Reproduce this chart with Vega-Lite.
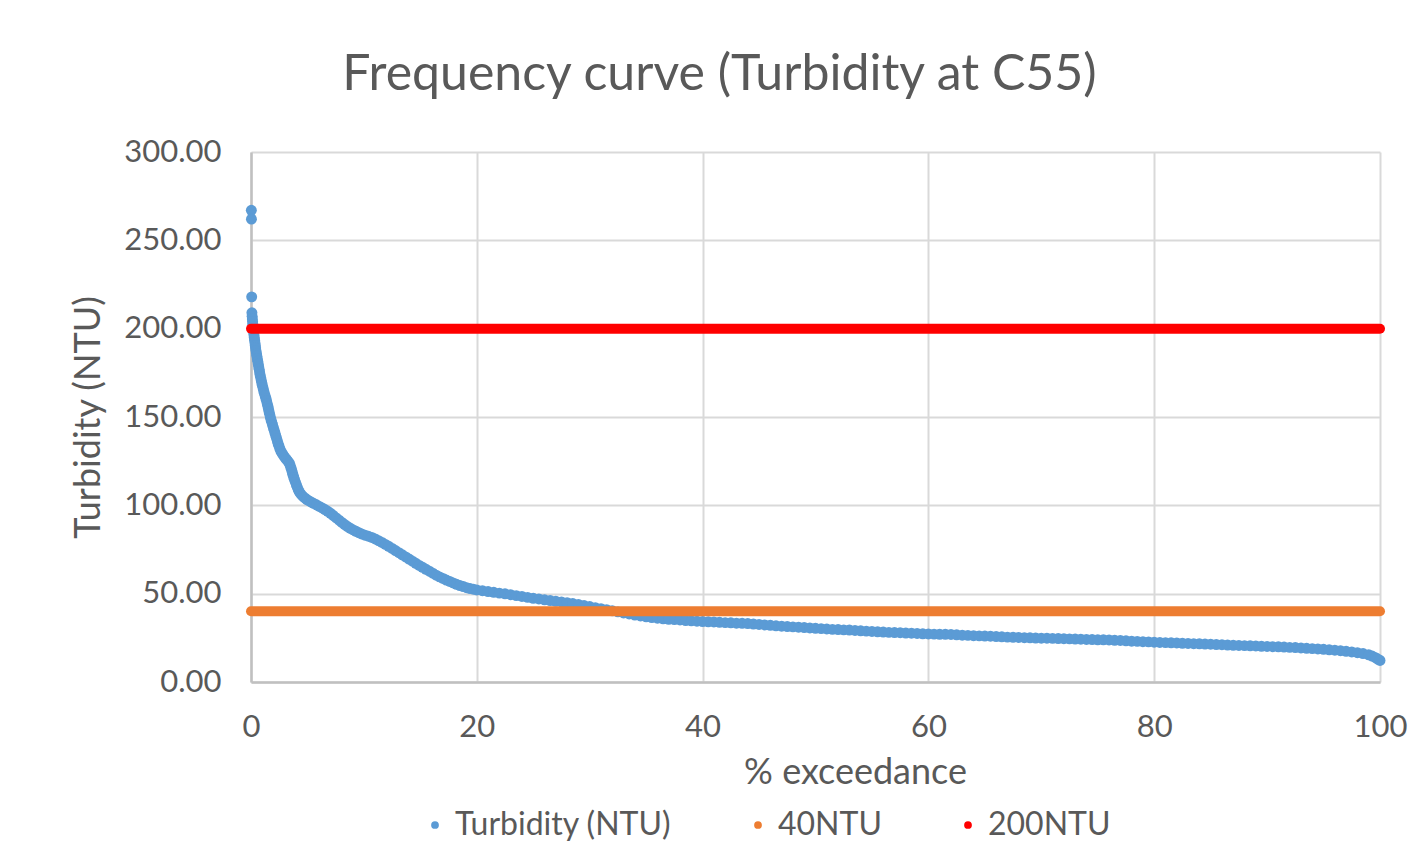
{
  "$schema": "https://vega.github.io/schema/vega-lite/v6.json",
  "autosize": "none",
  "width": 1129,
  "height": 530,
  "padding": {"left": 251, "top": 152, "right": 37, "bottom": 173},
  "background": "#ffffff",
  "title": {
    "text": "Frequency curve (Turbidity at C55)",
    "anchor": "middle",
    "frame": "group",
    "dx": -96,
    "offset": 36,
    "font": "Lato",
    "fontSize": 50,
    "fontWeight": "normal",
    "color": "#595959"
  },
  "config": {
    "view": {"stroke": null},
    "font": "Lato",
    "axis": {
      "labelFont": "Lato",
      "labelColor": "#595959",
      "labelFontSize": 31,
      "labelFlush": false,
      "titleFont": "Lato",
      "titleColor": "#595959",
      "titleFontSize": 36,
      "titleFontWeight": "normal",
      "gridColor": "#D9D9D9",
      "gridWidth": 2,
      "ticks": false,
      "domainColor": "#C0C0C0",
      "domainWidth": 2.5
    }
  },
  "datasets": {
    "turbidity": [
      {"series": "Turbidity (NTU)", "pct": 0.03, "ntu": 267},
      {"series": "Turbidity (NTU)", "pct": 0.04, "ntu": 262},
      {"series": "Turbidity (NTU)", "pct": 0.06, "ntu": 218},
      {"series": "Turbidity (NTU)", "pct": 0.08, "ntu": 209},
      {"series": "Turbidity (NTU)", "pct": 0.10, "ntu": 207},
      {"series": "Turbidity (NTU)", "pct": 0.12, "ntu": 205.5},
      {"series": "Turbidity (NTU)", "pct": 0.14, "ntu": 204},
      {"series": "Turbidity (NTU)", "pct": 0.16, "ntu": 202.5},
      {"series": "Turbidity (NTU)", "pct": 0.18, "ntu": 201},
      {"series": "Turbidity (NTU)", "pct": 0.20, "ntu": 199.5},
      {"series": "Turbidity (NTU)", "pct": 0.23, "ntu": 198},
      {"series": "Turbidity (NTU)", "pct": 0.26, "ntu": 196.5},
      {"series": "Turbidity (NTU)", "pct": 0.29, "ntu": 195},
      {"series": "Turbidity (NTU)", "pct": 0.32, "ntu": 193.5},
      {"series": "Turbidity (NTU)", "pct": 0.35, "ntu": 192},
      {"series": "Turbidity (NTU)", "pct": 0.38, "ntu": 190.5},
      {"series": "Turbidity (NTU)", "pct": 0.41, "ntu": 189},
      {"series": "Turbidity (NTU)", "pct": 0.44, "ntu": 187.5},
      {"series": "Turbidity (NTU)", "pct": 0.48, "ntu": 186},
      {"series": "Turbidity (NTU)", "pct": 0.52, "ntu": 184.5},
      {"series": "Turbidity (NTU)", "pct": 0.56, "ntu": 183},
      {"series": "Turbidity (NTU)", "pct": 0.60, "ntu": 181.5},
      {"series": "Turbidity (NTU)", "pct": 0.64, "ntu": 180},
      {"series": "Turbidity (NTU)", "pct": 0.68, "ntu": 178.5},
      {"series": "Turbidity (NTU)", "pct": 0.72, "ntu": 177},
      {"series": "Turbidity (NTU)", "pct": 0.76, "ntu": 175.5},
      {"series": "Turbidity (NTU)", "pct": 0.80, "ntu": 174},
      {"series": "Turbidity (NTU)", "pct": 0.85, "ntu": 172.5},
      {"series": "Turbidity (NTU)", "pct": 0.90, "ntu": 171},
      {"series": "Turbidity (NTU)", "pct": 0.95, "ntu": 169.5},
      {"series": "Turbidity (NTU)", "pct": 1.00, "ntu": 168},
      {"series": "Turbidity (NTU)", "pct": 1.06, "ntu": 166.5},
      {"series": "Turbidity (NTU)", "pct": 1.12, "ntu": 165},
      {"series": "Turbidity (NTU)", "pct": 1.18, "ntu": 163.5},
      {"series": "Turbidity (NTU)", "pct": 1.25, "ntu": 162},
      {"series": "Turbidity (NTU)", "pct": 1.32, "ntu": 160.5},
      {"series": "Turbidity (NTU)", "pct": 1.38, "ntu": 159},
      {"series": "Turbidity (NTU)", "pct": 1.44, "ntu": 157.5},
      {"series": "Turbidity (NTU)", "pct": 1.50, "ntu": 156},
      {"series": "Turbidity (NTU)", "pct": 1.55, "ntu": 154.5},
      {"series": "Turbidity (NTU)", "pct": 1.60, "ntu": 153},
      {"series": "Turbidity (NTU)", "pct": 1.65, "ntu": 151.5},
      {"series": "Turbidity (NTU)", "pct": 1.71, "ntu": 150},
      {"series": "Turbidity (NTU)", "pct": 1.77, "ntu": 148.5},
      {"series": "Turbidity (NTU)", "pct": 1.84, "ntu": 147},
      {"series": "Turbidity (NTU)", "pct": 1.91, "ntu": 145.5},
      {"series": "Turbidity (NTU)", "pct": 1.98, "ntu": 144},
      {"series": "Turbidity (NTU)", "pct": 2.05, "ntu": 142.5},
      {"series": "Turbidity (NTU)", "pct": 2.12, "ntu": 141},
      {"series": "Turbidity (NTU)", "pct": 2.19, "ntu": 139.5},
      {"series": "Turbidity (NTU)", "pct": 2.26, "ntu": 138},
      {"series": "Turbidity (NTU)", "pct": 2.33, "ntu": 136.5},
      {"series": "Turbidity (NTU)", "pct": 2.40, "ntu": 135},
      {"series": "Turbidity (NTU)", "pct": 2.48, "ntu": 133.5},
      {"series": "Turbidity (NTU)", "pct": 2.56, "ntu": 132},
      {"series": "Turbidity (NTU)", "pct": 2.66, "ntu": 130.5},
      {"series": "Turbidity (NTU)", "pct": 2.78, "ntu": 129.2},
      {"series": "Turbidity (NTU)", "pct": 2.90, "ntu": 128},
      {"series": "Turbidity (NTU)", "pct": 3.02, "ntu": 127},
      {"series": "Turbidity (NTU)", "pct": 3.14, "ntu": 126},
      {"series": "Turbidity (NTU)", "pct": 3.26, "ntu": 125},
      {"series": "Turbidity (NTU)", "pct": 3.38, "ntu": 124},
      {"series": "Turbidity (NTU)", "pct": 3.46, "ntu": 122.8},
      {"series": "Turbidity (NTU)", "pct": 3.53, "ntu": 121.4},
      {"series": "Turbidity (NTU)", "pct": 3.60, "ntu": 120},
      {"series": "Turbidity (NTU)", "pct": 3.66, "ntu": 118.6},
      {"series": "Turbidity (NTU)", "pct": 3.72, "ntu": 117.2},
      {"series": "Turbidity (NTU)", "pct": 3.79, "ntu": 115.8},
      {"series": "Turbidity (NTU)", "pct": 3.86, "ntu": 114.4},
      {"series": "Turbidity (NTU)", "pct": 3.94, "ntu": 113},
      {"series": "Turbidity (NTU)", "pct": 4.02, "ntu": 111.6},
      {"series": "Turbidity (NTU)", "pct": 4.10, "ntu": 110.2},
      {"series": "Turbidity (NTU)", "pct": 4.19, "ntu": 108.8},
      {"series": "Turbidity (NTU)", "pct": 4.29, "ntu": 107.5},
      {"series": "Turbidity (NTU)", "pct": 4.42, "ntu": 106.3},
      {"series": "Turbidity (NTU)", "pct": 4.58, "ntu": 105.2},
      {"series": "Turbidity (NTU)", "pct": 4.76, "ntu": 104.2},
      {"series": "Turbidity (NTU)", "pct": 4.95, "ntu": 103.3},
      {"series": "Turbidity (NTU)", "pct": 5.15, "ntu": 102.5},
      {"series": "Turbidity (NTU)", "pct": 5.35, "ntu": 101.8},
      {"series": "Turbidity (NTU)", "pct": 5.55, "ntu": 101.1},
      {"series": "Turbidity (NTU)", "pct": 5.80, "ntu": 100.3},
      {"series": "Turbidity (NTU)", "pct": 6.05, "ntu": 99.4},
      {"series": "Turbidity (NTU)", "pct": 6.30, "ntu": 98.5},
      {"series": "Turbidity (NTU)", "pct": 6.55, "ntu": 97.6},
      {"series": "Turbidity (NTU)", "pct": 6.80, "ntu": 96.6},
      {"series": "Turbidity (NTU)", "pct": 7.05, "ntu": 95.5},
      {"series": "Turbidity (NTU)", "pct": 7.30, "ntu": 94.2},
      {"series": "Turbidity (NTU)", "pct": 7.55, "ntu": 92.9},
      {"series": "Turbidity (NTU)", "pct": 7.80, "ntu": 91.6},
      {"series": "Turbidity (NTU)", "pct": 8.05, "ntu": 90.3},
      {"series": "Turbidity (NTU)", "pct": 8.30, "ntu": 89.1},
      {"series": "Turbidity (NTU)", "pct": 8.55, "ntu": 88.0},
      {"series": "Turbidity (NTU)", "pct": 8.80, "ntu": 87.0},
      {"series": "Turbidity (NTU)", "pct": 9.05, "ntu": 86.1},
      {"series": "Turbidity (NTU)", "pct": 9.30, "ntu": 85.3},
      {"series": "Turbidity (NTU)", "pct": 9.55, "ntu": 84.5},
      {"series": "Turbidity (NTU)", "pct": 9.80, "ntu": 83.8},
      {"series": "Turbidity (NTU)", "pct": 10.10, "ntu": 83.1},
      {"series": "Turbidity (NTU)", "pct": 10.40, "ntu": 82.5},
      {"series": "Turbidity (NTU)", "pct": 10.70, "ntu": 81.8},
      {"series": "Turbidity (NTU)", "pct": 11.00, "ntu": 81.0},
      {"series": "Turbidity (NTU)", "pct": 11.30, "ntu": 80.0},
      {"series": "Turbidity (NTU)", "pct": 11.60, "ntu": 79.0},
      {"series": "Turbidity (NTU)", "pct": 11.90, "ntu": 77.9},
      {"series": "Turbidity (NTU)", "pct": 12.20, "ntu": 76.8},
      {"series": "Turbidity (NTU)", "pct": 12.50, "ntu": 75.6},
      {"series": "Turbidity (NTU)", "pct": 12.80, "ntu": 74.4},
      {"series": "Turbidity (NTU)", "pct": 13.10, "ntu": 73.2},
      {"series": "Turbidity (NTU)", "pct": 13.40, "ntu": 72.0},
      {"series": "Turbidity (NTU)", "pct": 13.70, "ntu": 70.8},
      {"series": "Turbidity (NTU)", "pct": 14.00, "ntu": 69.6},
      {"series": "Turbidity (NTU)", "pct": 14.30, "ntu": 68.4},
      {"series": "Turbidity (NTU)", "pct": 14.60, "ntu": 67.2},
      {"series": "Turbidity (NTU)", "pct": 14.90, "ntu": 66.0},
      {"series": "Turbidity (NTU)", "pct": 15.20, "ntu": 64.9},
      {"series": "Turbidity (NTU)", "pct": 15.50, "ntu": 63.8},
      {"series": "Turbidity (NTU)", "pct": 15.80, "ntu": 62.7},
      {"series": "Turbidity (NTU)", "pct": 16.10, "ntu": 61.6},
      {"series": "Turbidity (NTU)", "pct": 16.40, "ntu": 60.5},
      {"series": "Turbidity (NTU)", "pct": 16.70, "ntu": 59.5},
      {"series": "Turbidity (NTU)", "pct": 17.00, "ntu": 58.6},
      {"series": "Turbidity (NTU)", "pct": 17.30, "ntu": 57.7},
      {"series": "Turbidity (NTU)", "pct": 17.60, "ntu": 56.9},
      {"series": "Turbidity (NTU)", "pct": 17.90, "ntu": 56.1},
      {"series": "Turbidity (NTU)", "pct": 18.20, "ntu": 55.3},
      {"series": "Turbidity (NTU)", "pct": 18.50, "ntu": 54.6},
      {"series": "Turbidity (NTU)", "pct": 18.80, "ntu": 54.0},
      {"series": "Turbidity (NTU)", "pct": 19.10, "ntu": 53.4},
      {"series": "Turbidity (NTU)", "pct": 19.40, "ntu": 52.9},
      {"series": "Turbidity (NTU)", "pct": 19.70, "ntu": 52.5},
      {"series": "Turbidity (NTU)", "pct": 20.0, "ntu": 52.1},
      {"series": "Turbidity (NTU)", "pct": 20.5, "ntu": 51.7},
      {"series": "Turbidity (NTU)", "pct": 21.0, "ntu": 51.2},
      {"series": "Turbidity (NTU)", "pct": 21.5, "ntu": 50.8},
      {"series": "Turbidity (NTU)", "pct": 22.0, "ntu": 50.3},
      {"series": "Turbidity (NTU)", "pct": 22.5, "ntu": 49.9},
      {"series": "Turbidity (NTU)", "pct": 23.0, "ntu": 49.4},
      {"series": "Turbidity (NTU)", "pct": 23.5, "ntu": 48.9},
      {"series": "Turbidity (NTU)", "pct": 24.0, "ntu": 48.4},
      {"series": "Turbidity (NTU)", "pct": 24.5, "ntu": 47.9},
      {"series": "Turbidity (NTU)", "pct": 25.0, "ntu": 47.4},
      {"series": "Turbidity (NTU)", "pct": 25.5, "ntu": 47.0},
      {"series": "Turbidity (NTU)", "pct": 26.0, "ntu": 46.5},
      {"series": "Turbidity (NTU)", "pct": 26.5, "ntu": 46.1},
      {"series": "Turbidity (NTU)", "pct": 27.0, "ntu": 45.7},
      {"series": "Turbidity (NTU)", "pct": 27.5, "ntu": 45.3},
      {"series": "Turbidity (NTU)", "pct": 28.0, "ntu": 44.9},
      {"series": "Turbidity (NTU)", "pct": 28.5, "ntu": 44.4},
      {"series": "Turbidity (NTU)", "pct": 29.0, "ntu": 43.9},
      {"series": "Turbidity (NTU)", "pct": 29.5, "ntu": 43.3},
      {"series": "Turbidity (NTU)", "pct": 30.0, "ntu": 42.7},
      {"series": "Turbidity (NTU)", "pct": 30.5, "ntu": 42.1},
      {"series": "Turbidity (NTU)", "pct": 31.0, "ntu": 41.5},
      {"series": "Turbidity (NTU)", "pct": 31.5, "ntu": 40.9},
      {"series": "Turbidity (NTU)", "pct": 32.0, "ntu": 40.3},
      {"series": "Turbidity (NTU)", "pct": 32.5, "ntu": 39.7},
      {"series": "Turbidity (NTU)", "pct": 33.0, "ntu": 39.1},
      {"series": "Turbidity (NTU)", "pct": 33.5, "ntu": 38.5},
      {"series": "Turbidity (NTU)", "pct": 34.0, "ntu": 37.9},
      {"series": "Turbidity (NTU)", "pct": 34.5, "ntu": 37.4},
      {"series": "Turbidity (NTU)", "pct": 35.0, "ntu": 36.9},
      {"series": "Turbidity (NTU)", "pct": 35.5, "ntu": 36.5},
      {"series": "Turbidity (NTU)", "pct": 36.0, "ntu": 36.1},
      {"series": "Turbidity (NTU)", "pct": 36.5, "ntu": 35.8},
      {"series": "Turbidity (NTU)", "pct": 37.0, "ntu": 35.5},
      {"series": "Turbidity (NTU)", "pct": 37.5, "ntu": 35.3},
      {"series": "Turbidity (NTU)", "pct": 38.0, "ntu": 35.1},
      {"series": "Turbidity (NTU)", "pct": 38.5, "ntu": 34.8},
      {"series": "Turbidity (NTU)", "pct": 39.0, "ntu": 34.6},
      {"series": "Turbidity (NTU)", "pct": 39.5, "ntu": 34.4},
      {"series": "Turbidity (NTU)", "pct": 40.0, "ntu": 34.2},
      {"series": "Turbidity (NTU)", "pct": 40.5, "ntu": 34.1},
      {"series": "Turbidity (NTU)", "pct": 41.0, "ntu": 34.0},
      {"series": "Turbidity (NTU)", "pct": 41.5, "ntu": 33.8},
      {"series": "Turbidity (NTU)", "pct": 42.0, "ntu": 33.6},
      {"series": "Turbidity (NTU)", "pct": 42.5, "ntu": 33.5},
      {"series": "Turbidity (NTU)", "pct": 43.0, "ntu": 33.3},
      {"series": "Turbidity (NTU)", "pct": 43.5, "ntu": 33.2},
      {"series": "Turbidity (NTU)", "pct": 44.0, "ntu": 33.1},
      {"series": "Turbidity (NTU)", "pct": 44.5, "ntu": 32.8},
      {"series": "Turbidity (NTU)", "pct": 45.0, "ntu": 32.6},
      {"series": "Turbidity (NTU)", "pct": 45.5, "ntu": 32.3},
      {"series": "Turbidity (NTU)", "pct": 46.0, "ntu": 32.1},
      {"series": "Turbidity (NTU)", "pct": 46.5, "ntu": 31.8},
      {"series": "Turbidity (NTU)", "pct": 47.0, "ntu": 31.6},
      {"series": "Turbidity (NTU)", "pct": 47.5, "ntu": 31.4},
      {"series": "Turbidity (NTU)", "pct": 48.0, "ntu": 31.2},
      {"series": "Turbidity (NTU)", "pct": 48.5, "ntu": 31.0},
      {"series": "Turbidity (NTU)", "pct": 49.0, "ntu": 30.8},
      {"series": "Turbidity (NTU)", "pct": 49.5, "ntu": 30.6},
      {"series": "Turbidity (NTU)", "pct": 50.0, "ntu": 30.4},
      {"series": "Turbidity (NTU)", "pct": 50.5, "ntu": 30.2},
      {"series": "Turbidity (NTU)", "pct": 51.0, "ntu": 30.0},
      {"series": "Turbidity (NTU)", "pct": 51.5, "ntu": 29.8},
      {"series": "Turbidity (NTU)", "pct": 52.0, "ntu": 29.7},
      {"series": "Turbidity (NTU)", "pct": 52.5, "ntu": 29.5},
      {"series": "Turbidity (NTU)", "pct": 53.0, "ntu": 29.4},
      {"series": "Turbidity (NTU)", "pct": 53.5, "ntu": 29.2},
      {"series": "Turbidity (NTU)", "pct": 54.0, "ntu": 29.0},
      {"series": "Turbidity (NTU)", "pct": 54.5, "ntu": 28.8},
      {"series": "Turbidity (NTU)", "pct": 55.0, "ntu": 28.6},
      {"series": "Turbidity (NTU)", "pct": 55.5, "ntu": 28.4},
      {"series": "Turbidity (NTU)", "pct": 56.0, "ntu": 28.3},
      {"series": "Turbidity (NTU)", "pct": 56.5, "ntu": 28.1},
      {"series": "Turbidity (NTU)", "pct": 57.0, "ntu": 28.0},
      {"series": "Turbidity (NTU)", "pct": 57.5, "ntu": 27.9},
      {"series": "Turbidity (NTU)", "pct": 58.0, "ntu": 27.7},
      {"series": "Turbidity (NTU)", "pct": 58.5, "ntu": 27.6},
      {"series": "Turbidity (NTU)", "pct": 59.0, "ntu": 27.5},
      {"series": "Turbidity (NTU)", "pct": 59.5, "ntu": 27.3},
      {"series": "Turbidity (NTU)", "pct": 60.0, "ntu": 27.2},
      {"series": "Turbidity (NTU)", "pct": 60.5, "ntu": 27.1},
      {"series": "Turbidity (NTU)", "pct": 61.0, "ntu": 27.0},
      {"series": "Turbidity (NTU)", "pct": 61.5, "ntu": 27.0},
      {"series": "Turbidity (NTU)", "pct": 62.0, "ntu": 26.9},
      {"series": "Turbidity (NTU)", "pct": 62.5, "ntu": 26.7},
      {"series": "Turbidity (NTU)", "pct": 63.0, "ntu": 26.5},
      {"series": "Turbidity (NTU)", "pct": 63.5, "ntu": 26.4},
      {"series": "Turbidity (NTU)", "pct": 64.0, "ntu": 26.2},
      {"series": "Turbidity (NTU)", "pct": 64.5, "ntu": 26.1},
      {"series": "Turbidity (NTU)", "pct": 65.0, "ntu": 26.0},
      {"series": "Turbidity (NTU)", "pct": 65.5, "ntu": 25.9},
      {"series": "Turbidity (NTU)", "pct": 66.0, "ntu": 25.7},
      {"series": "Turbidity (NTU)", "pct": 66.5, "ntu": 25.6},
      {"series": "Turbidity (NTU)", "pct": 67.0, "ntu": 25.4},
      {"series": "Turbidity (NTU)", "pct": 67.5, "ntu": 25.3},
      {"series": "Turbidity (NTU)", "pct": 68.0, "ntu": 25.2},
      {"series": "Turbidity (NTU)", "pct": 68.5, "ntu": 25.1},
      {"series": "Turbidity (NTU)", "pct": 69.0, "ntu": 25.0},
      {"series": "Turbidity (NTU)", "pct": 69.5, "ntu": 24.9},
      {"series": "Turbidity (NTU)", "pct": 70.0, "ntu": 24.8},
      {"series": "Turbidity (NTU)", "pct": 70.5, "ntu": 24.8},
      {"series": "Turbidity (NTU)", "pct": 71.0, "ntu": 24.7},
      {"series": "Turbidity (NTU)", "pct": 71.5, "ntu": 24.6},
      {"series": "Turbidity (NTU)", "pct": 72.0, "ntu": 24.5},
      {"series": "Turbidity (NTU)", "pct": 72.5, "ntu": 24.4},
      {"series": "Turbidity (NTU)", "pct": 73.0, "ntu": 24.3},
      {"series": "Turbidity (NTU)", "pct": 73.5, "ntu": 24.2},
      {"series": "Turbidity (NTU)", "pct": 74.0, "ntu": 24.1},
      {"series": "Turbidity (NTU)", "pct": 74.5, "ntu": 24.0},
      {"series": "Turbidity (NTU)", "pct": 75.0, "ntu": 23.9},
      {"series": "Turbidity (NTU)", "pct": 75.5, "ntu": 23.9},
      {"series": "Turbidity (NTU)", "pct": 76.0, "ntu": 23.8},
      {"series": "Turbidity (NTU)", "pct": 76.5, "ntu": 23.6},
      {"series": "Turbidity (NTU)", "pct": 77.0, "ntu": 23.5},
      {"series": "Turbidity (NTU)", "pct": 77.5, "ntu": 23.3},
      {"series": "Turbidity (NTU)", "pct": 78.0, "ntu": 23.1},
      {"series": "Turbidity (NTU)", "pct": 78.5, "ntu": 23.0},
      {"series": "Turbidity (NTU)", "pct": 79.0, "ntu": 22.8},
      {"series": "Turbidity (NTU)", "pct": 79.5, "ntu": 22.7},
      {"series": "Turbidity (NTU)", "pct": 80.0, "ntu": 22.5},
      {"series": "Turbidity (NTU)", "pct": 80.5, "ntu": 22.4},
      {"series": "Turbidity (NTU)", "pct": 81.0, "ntu": 22.3},
      {"series": "Turbidity (NTU)", "pct": 81.5, "ntu": 22.2},
      {"series": "Turbidity (NTU)", "pct": 82.0, "ntu": 22.1},
      {"series": "Turbidity (NTU)", "pct": 82.5, "ntu": 21.9},
      {"series": "Turbidity (NTU)", "pct": 83.0, "ntu": 21.8},
      {"series": "Turbidity (NTU)", "pct": 83.5, "ntu": 21.7},
      {"series": "Turbidity (NTU)", "pct": 84.0, "ntu": 21.6},
      {"series": "Turbidity (NTU)", "pct": 84.5, "ntu": 21.5},
      {"series": "Turbidity (NTU)", "pct": 85.0, "ntu": 21.4},
      {"series": "Turbidity (NTU)", "pct": 85.5, "ntu": 21.2},
      {"series": "Turbidity (NTU)", "pct": 86.0, "ntu": 21.1},
      {"series": "Turbidity (NTU)", "pct": 86.5, "ntu": 20.9},
      {"series": "Turbidity (NTU)", "pct": 87.0, "ntu": 20.8},
      {"series": "Turbidity (NTU)", "pct": 87.5, "ntu": 20.7},
      {"series": "Turbidity (NTU)", "pct": 88.0, "ntu": 20.6},
      {"series": "Turbidity (NTU)", "pct": 88.5, "ntu": 20.5},
      {"series": "Turbidity (NTU)", "pct": 89.0, "ntu": 20.4},
      {"series": "Turbidity (NTU)", "pct": 89.5, "ntu": 20.2},
      {"series": "Turbidity (NTU)", "pct": 90.0, "ntu": 20.1},
      {"series": "Turbidity (NTU)", "pct": 90.5, "ntu": 20.0},
      {"series": "Turbidity (NTU)", "pct": 91.0, "ntu": 19.9},
      {"series": "Turbidity (NTU)", "pct": 91.5, "ntu": 19.8},
      {"series": "Turbidity (NTU)", "pct": 92.0, "ntu": 19.6},
      {"series": "Turbidity (NTU)", "pct": 92.5, "ntu": 19.5},
      {"series": "Turbidity (NTU)", "pct": 93.0, "ntu": 19.3},
      {"series": "Turbidity (NTU)", "pct": 93.5, "ntu": 19.1},
      {"series": "Turbidity (NTU)", "pct": 94.0, "ntu": 18.9},
      {"series": "Turbidity (NTU)", "pct": 94.5, "ntu": 18.7},
      {"series": "Turbidity (NTU)", "pct": 95.0, "ntu": 18.5},
      {"series": "Turbidity (NTU)", "pct": 95.5, "ntu": 18.2},
      {"series": "Turbidity (NTU)", "pct": 96.0, "ntu": 18.0},
      {"series": "Turbidity (NTU)", "pct": 96.5, "ntu": 17.7},
      {"series": "Turbidity (NTU)", "pct": 97.0, "ntu": 17.4},
      {"series": "Turbidity (NTU)", "pct": 97.5, "ntu": 17.0},
      {"series": "Turbidity (NTU)", "pct": 98.0, "ntu": 16.6},
      {"series": "Turbidity (NTU)", "pct": 98.5, "ntu": 16.1},
      {"series": "Turbidity (NTU)", "pct": 99.0, "ntu": 15.4},
      {"series": "Turbidity (NTU)", "pct": 99.3, "ntu": 14.7},
      {"series": "Turbidity (NTU)", "pct": 99.6, "ntu": 13.8},
      {"series": "Turbidity (NTU)", "pct": 99.8, "ntu": 13.0},
      {"series": "Turbidity (NTU)", "pct": 100.0, "ntu": 12.2}
    ],
    "limits": [
      {"series": "40NTU", "pct": 0, "ntu": 40},
      {"series": "40NTU", "pct": 100, "ntu": 40},
      {"series": "200NTU", "pct": 0, "ntu": 200},
      {"series": "200NTU", "pct": 100, "ntu": 200}
    ]
  },
  "encoding": {
    "x": {
      "field": "pct",
      "type": "quantitative",
      "title": "% exceedance",
      "scale": {"domain": [0, 100], "nice": false},
      "axis": {"values": [0, 20, 40, 60, 80, 100], "format": "d", "labelPadding": 30, "titlePadding": 13, "titleX": 604}
    },
    "y": {
      "field": "ntu",
      "type": "quantitative",
      "title": "Turbidity (NTU)",
      "scale": {"domain": [0, 300], "nice": false},
      "axis": {"values": [0, 50, 100, 150, 200, 250, 300], "format": ".2f", "labelPadding": 30, "titlePadding": 16}
    },
    "color": {
      "field": "series",
      "type": "nominal",
      "scale": {
        "domain": ["Turbidity (NTU)", "40NTU", "200NTU"],
        "range": ["#5B9BD5", "#ED7D31", "#FF0000"]
      },
      "legend": {
        "title": null,
        "orient": "none",
        "direction": "horizontal",
        "legendX": 168,
        "legendY": 657,
        "symbolType": "circle",
        "symbolSize": 60,
        "symbolStrokeWidth": 0,
        "labelFont": "Lato",
        "labelFontSize": 32,
        "labelLimit": 0,
        "labelColor": "#595959",
        "labelOffset": 4,
        "columnPadding": 70,
        "encode": {
          "symbols": {"update": {"fill": {"scale": "color", "field": "value"}, "opacity": {"value": 1}}}
        }
      }
    }
  },
  "layer": [
    {
      "data": {"name": "turbidity"},
      "mark": {"type": "point", "filled": true, "size": 120, "opacity": 1}
    },
    {
      "data": {"name": "limits"},
      "mark": {"type": "line", "strokeWidth": 10, "strokeCap": "round"},
      "encoding": {"detail": {"field": "series"}}
    }
  ]
}
